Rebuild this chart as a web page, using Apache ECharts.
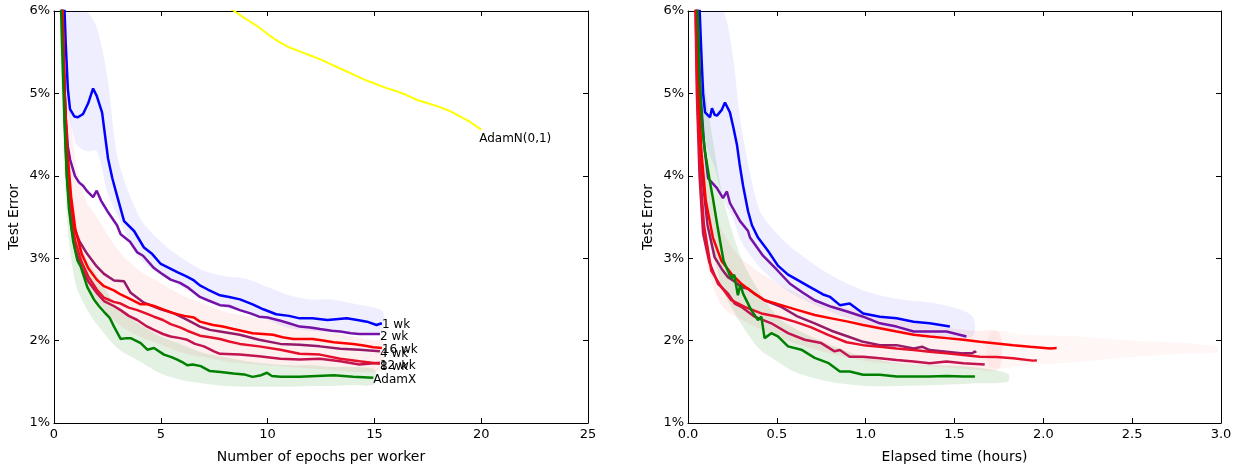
<!DOCTYPE html>
<html>
<head>
<meta charset="utf-8">
<script src="https://cdn.jsdelivr.net/npm/echarts@6/dist/echarts.min.js"></script>
<style>
html,body{margin:0;padding:0;background:#fff;}
#chart{width:1243px;height:469px;}
</style>
</head>
<body>
<div id="chart"></div>
<script>
// ---------- tick labels / axis titles ----------
const yTicks = [1, 2, 3, 4, 5, 6];
const leftXTitle = 'Number of epochs per worker';
const rightXTitle = 'Elapsed time (hours)';
const yTitle = 'Test Error';

// ---------- left panel: epochs per worker -> test error (%) ----------
const L_1wk = [[0.45,6.3],[0.55,5.6],[0.65,5.05],[0.75,4.81],[0.95,4.72],[1.12,4.71],[1.36,4.75],[1.6,4.88],[1.83,5.06],[2.0,4.97],[2.25,4.77],[2.53,4.21],[2.73,3.97],[2.95,3.76],[3.28,3.45],[3.75,3.33],[4.21,3.13],[4.6,3.05],[5.0,2.93],[5.4,2.88],[5.77,2.83],[6.2,2.78],[6.55,2.73],[6.83,2.67],[7.2,2.62],[7.77,2.55],[8.2,2.53],[8.71,2.50],[9.3,2.44],[9.8,2.38],[10.4,2.32],[11.0,2.30],[11.5,2.27],[12.1,2.27],[12.8,2.25],[13.2,2.26],[13.7,2.27],[14.2,2.25],[14.65,2.23],[15.1,2.19],[15.35,2.21]];
const L_2wk = [[0.35,6.3],[0.45,5.4],[0.55,4.7],[0.65,4.35],[0.75,4.2],[0.98,4.0],[1.17,3.92],[1.36,3.88],[1.56,3.81],[1.83,3.74],[2.0,3.82],[2.2,3.7],[2.5,3.57],[2.95,3.40],[3.12,3.29],[3.56,3.20],[3.9,3.07],[4.17,3.03],[4.68,2.88],[5.0,2.82],[5.46,2.74],[5.9,2.70],[6.24,2.65],[6.83,2.53],[7.2,2.49],[7.77,2.43],[8.2,2.42],[8.7,2.37],[9.2,2.33],[9.6,2.29],[10.0,2.28],[10.6,2.24],[11.0,2.21],[11.5,2.17],[12.0,2.16],[12.45,2.14],[13.0,2.12],[13.4,2.11],[13.9,2.09],[14.3,2.08],[14.8,2.08],[15.26,2.08]];
const L_4wk = [[0.36,6.3],[0.5,5.0],[0.6,4.3],[0.75,3.7],[0.94,3.37],[1.2,3.2],[1.56,3.05],[2.0,2.9],[2.34,2.81],[2.81,2.73],[3.28,2.72],[3.59,2.58],[4.21,2.46],[5.0,2.38],[5.62,2.33],[6.1,2.27],[6.55,2.21],[6.83,2.17],[7.3,2.13],[7.77,2.11],[8.7,2.07],[9.6,2.01],[10.6,1.96],[11.5,1.95],[12.45,1.93],[13.4,1.90],[14.3,1.89],[15.26,1.87]];
const L_8wk = [[0.36,6.3],[0.5,4.7],[0.6,4.0],[0.8,3.4],[1.0,3.1],[1.3,2.88],[1.6,2.72],[2.0,2.58],[2.34,2.48],[2.8,2.42],[3.12,2.37],[3.5,2.30],[3.9,2.25],[4.3,2.18],[4.68,2.13],[5.1,2.08],[5.46,2.05],[5.9,2.03],[6.24,2.01],[6.6,1.96],[7.02,1.93],[7.49,1.87],[7.77,1.84],[8.7,1.83],[9.6,1.81],[10.6,1.78],[11.5,1.77],[12.45,1.78],[13.4,1.75],[14.3,1.71],[15.26,1.73]];
const L_12wk = [[0.37,6.3],[0.5,4.8],[0.6,4.1],[0.8,3.5],[1.0,3.2],[1.3,2.95],[1.6,2.78],[2.0,2.62],[2.34,2.52],[2.8,2.47],[3.12,2.45],[3.5,2.40],[3.9,2.37],[4.3,2.33],[4.68,2.29],[5.1,2.25],[5.46,2.20],[5.9,2.16],[6.24,2.12],[6.83,2.06],[7.3,2.04],[7.77,2.02],[8.2,1.99],[8.7,1.96],[9.6,1.93],[10.6,1.89],[11.5,1.84],[12.45,1.83],[13.4,1.78],[14.3,1.75],[15.26,1.72]];
const L_16wk = [[0.38,6.3],[0.5,5.0],[0.6,4.4],[0.8,3.75],[1.0,3.35],[1.3,3.05],[1.6,2.88],[2.0,2.74],[2.34,2.66],[2.8,2.61],[3.12,2.56],[3.6,2.50],[4.06,2.44],[4.4,2.44],[4.68,2.42],[5.2,2.37],[5.62,2.33],[6.1,2.30],[6.55,2.28],[6.83,2.23],[7.45,2.19],[7.9,2.17],[8.4,2.14],[9.3,2.09],[10.25,2.07],[10.7,2.04],[11.2,2.02],[12.1,2.02],[12.6,2.00],[13.1,1.98],[14.0,1.96],[14.5,1.94],[14.95,1.92],[15.35,1.91]];
const L_adamX = [[0.3,6.3],[0.4,5.4],[0.5,4.6],[0.6,4.0],[0.7,3.6],[0.9,3.2],[1.1,2.97],[1.25,2.9],[1.56,2.65],[1.87,2.5],[2.1,2.42],[2.34,2.35],[2.6,2.28],[2.81,2.17],[3.12,2.02],[3.4,2.03],[3.59,2.03],[4.06,1.97],[4.37,1.89],[4.68,1.91],[5.15,1.83],[5.5,1.80],[5.77,1.77],[6.0,1.74],[6.24,1.70],[6.5,1.71],[6.87,1.69],[7.3,1.63],[7.8,1.62],[8.4,1.60],[8.9,1.59],[9.3,1.56],[9.7,1.58],[9.97,1.61],[10.2,1.57],[10.6,1.56],[11.5,1.56],[12.3,1.57],[13.1,1.58],[14.0,1.56],[14.95,1.55]];
const L_adamN = [[8.0,6.08],[8.43,6.0],[9.0,5.9],[9.5,5.82],[10,5.72],[10.5,5.63],[11,5.56],[11.5,5.51],[12,5.46],[12.5,5.41],[13,5.35],[13.5,5.29],[14,5.23],[14.5,5.17],[15,5.12],[15.5,5.07],[16,5.03],[16.5,4.98],[17,4.92],[17.5,4.88],[18,4.84],[18.5,4.79],[19,4.72],[19.5,4.65],[20,4.56]];

// faint run spread (envelopes) left panel
const LB_blue_x  = [0.5,1,1.5,2,2.5,3,4,5,6,7,8,9,10,11,12,13,14,15,15.4];
const LB_blue_hi = [6,6,6,5.8,5.2,4.2,3.5,3.2,3.0,2.85,2.78,2.75,2.65,2.55,2.5,2.5,2.45,2.4,2.35];
const LB_blue_lo = [5.2,4.4,4.3,4.3,3.8,3.5,3.0,2.8,2.65,2.5,2.4,2.35,2.25,2.15,2.12,2.1,2.1,2.1,2.12];
const LB_red_x  = [0.4,0.7,1,1.5,2,3,4,5,6,7,8,9,10,11,12,13,14,15,15.4];
const LB_red_hi = [6,5,4.2,3.7,3.5,3.1,2.85,2.7,2.55,2.45,2.35,2.3,2.25,2.2,2.15,2.1,2.05,2.0,2.0];
const LB_red_lo = [5,3.8,3.0,2.7,2.5,2.2,2.05,1.95,1.85,1.8,1.75,1.72,1.7,1.68,1.66,1.64,1.62,1.62,1.65];
const LB_green_x  = [0.3,0.6,1,1.5,2,3,4,5,6,7,8,9,10,11,12,13,14,15];
const LB_green_hi = [6,4.5,3.3,3.0,2.8,2.4,2.2,2.05,1.95,1.85,1.8,1.75,1.72,1.7,1.7,1.68,1.68,1.65];
const LB_green_lo = [5.5,3.5,2.7,2.4,2.2,1.9,1.75,1.6,1.52,1.48,1.45,1.44,1.44,1.44,1.45,1.45,1.46,1.47];

// ---------- right panel: elapsed hours -> test error (%) ----------
const R_1wk = [[0.06,6.3],[0.075,5.5],[0.085,5.0],[0.096,4.77],[0.124,4.71],[0.135,4.82],[0.15,4.74],[0.163,4.73],[0.19,4.8],[0.208,4.89],[0.236,4.77],[0.256,4.58],[0.276,4.37],[0.29,4.15],[0.31,3.88],[0.338,3.57],[0.36,3.4],[0.394,3.25],[0.45,3.09],[0.506,2.91],[0.563,2.80],[0.613,2.74],[0.687,2.65],[0.76,2.56],[0.80,2.53],[0.855,2.43],[0.91,2.45],[0.986,2.33],[1.08,2.29],[1.174,2.27],[1.27,2.23],[1.36,2.21],[1.474,2.17]];
const R_2wk = [[0.05,6.3],[0.07,5.0],[0.09,4.4],[0.113,3.97],[0.124,3.95],[0.163,3.85],[0.197,3.73],[0.219,3.81],[0.236,3.67],[0.293,3.45],[0.338,3.33],[0.349,3.25],[0.422,3.03],[0.50,2.86],[0.574,2.69],[0.647,2.58],[0.713,2.49],[0.807,2.41],[0.90,2.35],[0.986,2.29],[1.08,2.21],[1.174,2.17],[1.27,2.11],[1.36,2.11],[1.455,2.11],[1.567,2.05]];
const R_4wk = [[0.045,6.3],[0.06,4.9],[0.08,4.0],[0.11,3.4],[0.15,3.01],[0.19,2.87],[0.225,2.77],[0.26,2.72],[0.30,2.65],[0.338,2.63],[0.38,2.56],[0.431,2.49],[0.525,2.41],[0.619,2.29],[0.713,2.21],[0.807,2.12],[0.90,2.05],[0.986,1.985],[1.08,1.945],[1.174,1.945],[1.27,1.905],[1.32,1.925],[1.36,1.885],[1.455,1.865],[1.55,1.845],[1.6,1.845],[1.615,1.87],[1.62,1.85]];
const R_8wk = [[0.04,6.3],[0.05,5.0],[0.065,4.0],[0.085,3.3],[0.12,2.95],[0.169,2.69],[0.225,2.57],[0.263,2.45],[0.30,2.41],[0.375,2.29],[0.469,2.21],[0.563,2.09],[0.657,2.01],[0.75,1.97],[0.825,1.87],[0.855,1.885],[0.91,1.805],[0.986,1.805],[1.08,1.785],[1.174,1.765],[1.27,1.745],[1.36,1.725],[1.455,1.745],[1.55,1.725],[1.67,1.71]];
const R_12wk = [[0.04,6.3],[0.055,4.8],[0.07,4.0],[0.09,3.4],[0.131,2.85],[0.188,2.65],[0.244,2.49],[0.319,2.41],[0.413,2.33],[0.506,2.29],[0.60,2.23],[0.694,2.16],[0.788,2.07],[0.893,1.98],[0.986,1.945],[1.08,1.925],[1.174,1.905],[1.27,1.885],[1.36,1.865],[1.455,1.845],[1.55,1.825],[1.643,1.805],[1.737,1.80],[1.83,1.785],[1.94,1.757],[1.964,1.76]];
const R_16wk = [[0.045,6.3],[0.06,5.0],[0.075,4.3],[0.1,3.7],[0.14,3.25],[0.188,2.97],[0.244,2.81],[0.30,2.69],[0.375,2.57],[0.431,2.49],[0.525,2.43],[0.619,2.37],[0.713,2.31],[0.807,2.27],[0.90,2.23],[0.986,2.19],[1.08,2.15],[1.174,2.11],[1.27,2.07],[1.36,2.05],[1.455,2.03],[1.55,2.01],[1.643,1.985],[1.737,1.965],[1.83,1.945],[1.925,1.925],[2.04,1.905],[2.075,1.91]];
const R_adamX = [[0.05,6.3],[0.065,5.2],[0.08,4.6],[0.095,4.3],[0.12,3.97],[0.14,3.73],[0.165,3.4],[0.2,2.97],[0.244,2.75],[0.26,2.80],[0.281,2.55],[0.295,2.68],[0.31,2.57],[0.356,2.37],[0.394,2.25],[0.413,2.29],[0.431,2.03],[0.469,2.09],[0.506,2.05],[0.563,1.93],[0.638,1.89],[0.713,1.79],[0.788,1.73],[0.855,1.625],[0.91,1.625],[0.986,1.585],[1.08,1.585],[1.174,1.565],[1.27,1.565],[1.36,1.565],[1.455,1.57],[1.55,1.565],[1.615,1.565]];

// faint run spread (envelopes) right panel
const RB_blue_x  = [0.06,0.1,0.15,0.2,0.25,0.3,0.4,0.5,0.6,0.8,1.0,1.2,1.4,1.6];
const RB_blue_hi = [6,6,6,6,5.5,4.6,3.6,3.3,3.1,2.8,2.6,2.5,2.45,2.3];
const RB_blue_lo = [5.2,4.4,4.1,3.7,3.5,3.2,2.9,2.7,2.55,2.35,2.2,2.1,2.05,2.05];
const RB_red_x  = [0.04,0.07,0.1,0.15,0.2,0.3,0.5,0.7,1.0,1.3,1.6,1.75];
const RB_red_hi = [6,5,4.2,3.6,3.3,3.0,2.7,2.5,2.35,2.2,2.12,2.1];
const RB_red_lo = [5,3.6,3.0,2.6,2.4,2.25,2.05,1.9,1.75,1.7,1.65,1.66];
const RB_tail_x  = [1.7,1.9,2.2,2.5,2.8,2.98];
const RB_tail_hi = [2.1,2.07,2.05,2.0,1.97,1.92];
const RB_tail_lo = [1.68,1.7,1.74,1.8,1.84,1.86];
const RB_green_x  = [0.05,0.1,0.15,0.2,0.3,0.4,0.5,0.6,0.8,1.0,1.2,1.4,1.6,1.8];
const RB_green_hi = [6,5,4.3,3.7,3.0,2.6,2.3,2.15,1.95,1.8,1.72,1.7,1.68,1.6];
const RB_green_lo = [5.6,3.8,3.0,2.6,2.2,1.9,1.75,1.62,1.5,1.45,1.45,1.46,1.48,1.5];

// ---------- styling ----------
const FONT = 'DejaVu Sans';
const C = {
  '1 wk': '#0000ff', '2 wk': '#7412a8', '4 wk': '#951a6a', '8 wk': '#c21450',
  '12 wk': '#e6102c', '16 wk': '#ff0000', 'AdamX': '#008000', 'AdamN(0,1)': '#ffff00'
};

function band(xs, lo, hi, fill, xi, yi) {
  const rows = xs.map((x, i) => [x, lo[i], hi[i]]);
  return {
    type: 'custom', xAxisIndex: xi, yAxisIndex: yi, clip: true, silent: true, z: 1,
    data: rows, encode: { x: 0, y: [1, 2] },
    renderItem(params, api) {
      if (params.dataIndex !== 0) return null;
      const pts = [];
      for (let i = 0; i < xs.length; i++) pts.push(api.coord([xs[i], hi[i]]));
      for (let i = xs.length - 1; i >= 0; i--) pts.push(api.coord([xs[i], lo[i]]));
      return { type: 'polygon', shape: { points: pts, smooth: 0.3 }, style: { fill: fill } };
    }
  };
}

function line(name, data, xi, yi, withLabel, labelOffset) {
  const s = {
    type: 'line', name: name, data: data, xAxisIndex: xi, yAxisIndex: yi,
    showSymbol: false, symbol: 'none', clip: true, z: 3,
    lineStyle: { color: C[name], width: 2.5 }, itemStyle: { color: C[name] },
    emphasis: { disabled: true }
  };
  if (name === 'AdamN(0,1)') s.lineStyle.width = 2;
  if (withLabel) {
    s.endLabel = { show: true, formatter: '{a}', color: '#000', fontSize: 12,
      fontFamily: FONT, distance: 0, offset: labelOffset || [0, 2] };
  }
  return s;
}

function xAx(gi, min, max, interval, pos, showLabel, name, fmt) {
  return {
    type: 'value', gridIndex: gi, min: min, max: max, interval: interval, position: pos,
    axisLine: { show: true, onZero: false, lineStyle: { color: '#000', width: 1 } },
    axisTick: { show: true, inside: true, length: 5, lineStyle: { color: '#000' } },
    splitLine: { show: false },
    axisLabel: { show: showLabel, color: '#000', fontSize: 13, fontFamily: FONT, margin: 5, formatter: fmt },
    name: showLabel ? name : '', nameLocation: 'middle', nameGap: 27,
    nameTextStyle: { color: '#000', fontSize: 14, fontFamily: FONT }
  };
}
function yAx(gi, pos, showLabel) {
  return {
    type: 'value', gridIndex: gi, min: 1, max: 6, interval: 1, position: pos,
    axisLine: { show: true, onZero: false, lineStyle: { color: '#000', width: 1 } },
    axisTick: { show: true, inside: true, length: 5, lineStyle: { color: '#000' } },
    splitLine: { show: false },
    axisLabel: { show: showLabel, color: '#000', fontSize: 13, fontFamily: FONT, margin: 4,
      formatter: v => yTicks.includes(v) ? v + '%' : '' },
    name: showLabel ? yTitle : '', nameLocation: 'middle', nameGap: 33, nameRotate: 90,
    nameTextStyle: { color: '#000', fontSize: 14, fontFamily: FONT }
  };
}

const chart = echarts.init(document.getElementById('chart'), null, { renderer: 'canvas' });
chart.setOption({
  animation: false,
  backgroundColor: '#fff',
  grid: [
    { left: 54, right: 655, top: 11, bottom: 42, containLabel: false },
    { left: 688, right: 22, top: 11, bottom: 42, containLabel: false }
  ],
  xAxis: [
    xAx(0, 0, 25, 5, 'bottom', true, leftXTitle, v => String(v)),
    xAx(0, 0, 25, 5, 'top', false, '', v => String(v)),
    xAx(1, 0, 3, 0.5, 'bottom', true, rightXTitle, v => v.toFixed(1)),
    xAx(1, 0, 3, 0.5, 'top', false, '', v => v.toFixed(1))
  ],
  yAxis: [
    yAx(0, 'left', true), yAx(0, 'right', false),
    yAx(1, 'left', true), yAx(1, 'right', false)
  ],
  series: [
    band(LB_blue_x, LB_blue_lo, LB_blue_hi, 'rgba(0,0,255,0.065)', 0, 0),
    band(LB_red_x, LB_red_lo, LB_red_hi, 'rgba(255,0,0,0.06)', 0, 0),
    band(LB_green_x, LB_green_lo, LB_green_hi, 'rgba(0,128,0,0.11)', 0, 0),
    band(RB_blue_x, RB_blue_lo, RB_blue_hi, 'rgba(0,0,255,0.065)', 2, 2),
    band(RB_red_x, RB_red_lo, RB_red_hi, 'rgba(255,0,0,0.06)', 2, 2),
    band(RB_tail_x, RB_tail_lo, RB_tail_hi, 'rgba(255,0,0,0.035)', 2, 2),
    band(RB_green_x, RB_green_lo, RB_green_hi, 'rgba(0,128,0,0.11)', 2, 2),

    line('1 wk', L_1wk, 0, 0, true, [0, 2]),
    line('2 wk', L_2wk, 0, 0, true, [0, 3]),
    line('4 wk', L_4wk, 0, 0, true, [0, 3]),
    line('8 wk', L_8wk, 0, 0, true, [0, 4]),
    line('12 wk', L_12wk, 0, 0, true, [0, 2]),
    line('16 wk', L_16wk, 0, 0, true, [0, 2]),
    line('AdamX', L_adamX, 0, 0, true, [0, 2]),
    line('AdamN(0,1)', L_adamN, 0, 0, true, [-2, 9]),

    line('1 wk', R_1wk, 2, 2, false),
    line('2 wk', R_2wk, 2, 2, false),
    line('4 wk', R_4wk, 2, 2, false),
    line('8 wk', R_8wk, 2, 2, false),
    line('12 wk', R_12wk, 2, 2, false),
    line('16 wk', R_16wk, 2, 2, false),
    line('AdamX', R_adamX, 2, 2, false)
  ]
});
</script>
</body>
</html>
